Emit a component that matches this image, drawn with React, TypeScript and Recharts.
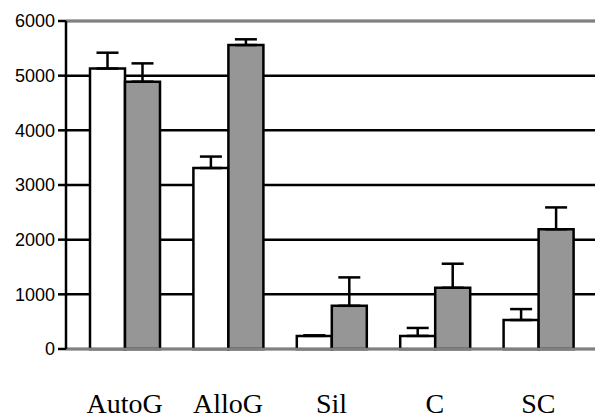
import React from 'react';
import { BarChart, Bar, XAxis, YAxis, CartesianGrid, ErrorBar, ReferenceLine } from 'recharts';

const categories = ['AutoG', 'AlloG', 'Sil', 'C', 'SC'];
const whiteValues = [5130, 3310, 240, 240, 530];
const whiteErrors = [290, 210, 10, 145, 200];
const grayValues = [4890, 5560, 790, 1120, 2190];
const grayErrors = [335, 105, 520, 440, 400];
const yTicks = [0, 1000, 2000, 3000, 4000, 5000, 6000];

const data = categories.map((name, i) => ({
  name,
  white: whiteValues[i],
  whiteErr: [0, whiteErrors[i]],
  gray: grayValues[i],
  grayErr: [0, grayErrors[i]],
}));

const XTick = (props: any) => {
  const { x, y, payload } = props;
  return (
    <text x={x} y={y} dy={64} textAnchor="middle" fontFamily="'Liberation Serif', 'Times New Roman', serif" fontSize={28} fill="#000">
      {payload.value}
    </text>
  );
};

export default function App() {
  return (
    <div style={{ position: 'absolute', left: 0, top: 0, width: 595, height: 420, background: '#fff' }}>
      <BarChart
        width={595}
        height={420}
        data={data}
        margin={{ top: 21, right: 0, bottom: 0, left: 0 }}
        barGap={0}
        barSize={35}
      >
        <CartesianGrid horizontal vertical={false} stroke="#000" strokeWidth={2.5} />
        <ReferenceLine y={6000} stroke="#808080" strokeWidth={2.5} />
        <ReferenceLine y={0} stroke="#808080" strokeWidth={2.5} />
        <XAxis
          dataKey="name"
          axisLine={false}
          tickLine={false}
          tickSize={0}
          tickMargin={0}
          height={71}
          padding={{ left: 7, right: 5 }}
          tick={<XTick />}
          interval={0}
        />
        <YAxis
          width={66}
          domain={[0, 6000]}
          ticks={yTicks}
          interval={0}
          axisLine={{ stroke: '#000', strokeWidth: 2.5 }}
          tickLine={{ stroke: '#000', strokeWidth: 2.5 }}
          tickSize={8}
          tickMargin={3}
          tick={{ fill: '#000', fontFamily: "'Liberation Sans', Arial, sans-serif", fontSize: 18 }}
        />
        <Bar dataKey="white" fill="#ffffff" stroke="#000" strokeWidth={2.5} isAnimationActive={false}>
          <ErrorBar dataKey="whiteErr" width={11} stroke="#000" strokeWidth={2.5} direction="y" />
        </Bar>
        <Bar dataKey="gray" fill="#969696" stroke="#000" strokeWidth={2.5} isAnimationActive={false}>
          <ErrorBar dataKey="grayErr" width={11} stroke="#000" strokeWidth={2.5} direction="y" />
        </Bar>
      </BarChart>
    </div>
  );
}
